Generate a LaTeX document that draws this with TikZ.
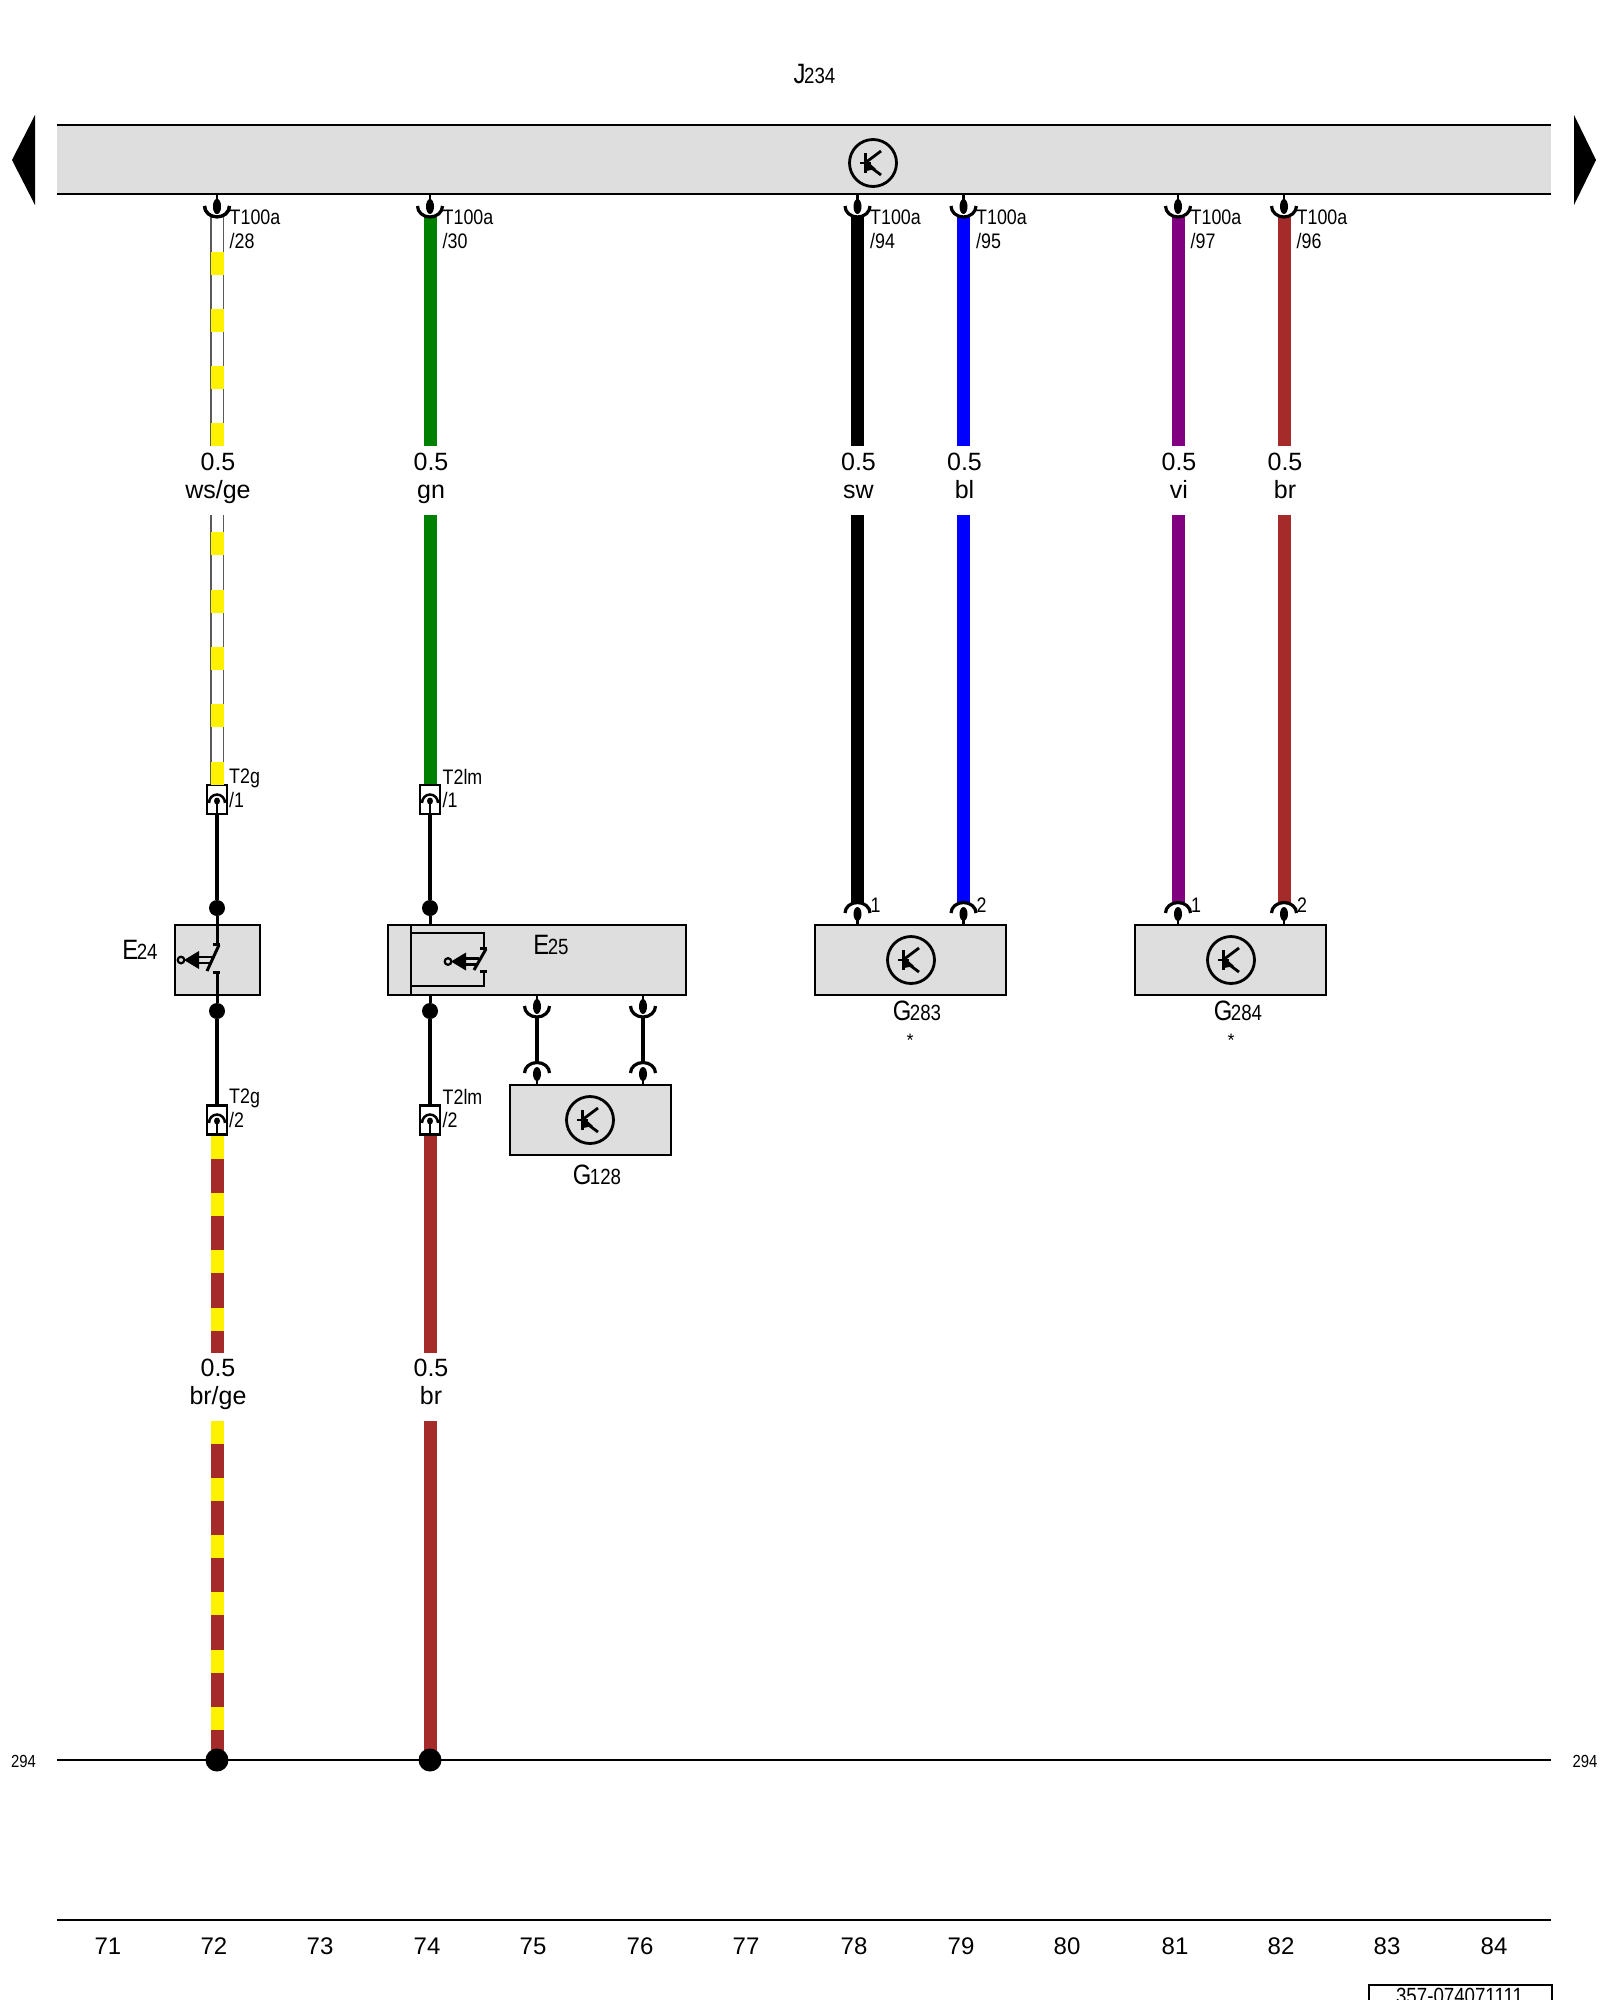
\documentclass[tikz,border=0pt]{standalone}
\usepackage{fontspec}
\setmainfont{Liberation Sans}
\newfontfamily\narrowfont[FakeStretch=0.85]{Liberation Sans}
\definecolor{boxgray}{HTML}{DEDEDE}
\definecolor{wbrown}{HTML}{A52A2A}
\definecolor{wgreen}{HTML}{008000}
\definecolor{wblue}{HTML}{0000FF}
\definecolor{wviolet}{HTML}{800080}
\newcommand{\complabel}[2]{{\narrowfont\fontsize{28}{28}\selectfont #1\hspace{-1.5pt}\fontsize{22}{22}\selectfont #2}}
\tikzset{
	wire/.style={line width=13pt,draw=#1},
	wswire/.style={line width=1.3pt,draw=gray!70!black,double=white,double distance=11pt},
	blackwire/.style={line width=4.5pt},
	rail/.style={line width=2.2pt},
	box/.style={draw,fill=boxgray,line width=2.2pt,inner sep=0pt},
	tbox/.style={draw,fill=white,line width=2.2pt,inner sep=0pt,minimum width=20pt,minimum height=29pt},
	dot/.style={circle,fill,inner sep=0pt,minimum size=16pt},
	bigdot/.style={circle,fill,inner sep=0pt,minimum size=23pt},
	pinlabel/.style={font=\narrowfont\fontsize{21}{23.5}\selectfont,inner sep=0pt,anchor=north west,align=left},
	wirelabel/.style={font=\fontsize{25}{25}\selectfont,inner sep=0pt,anchor=base},
	colnum/.style={font=\fontsize{24}{24}\selectfont,inner sep=0pt},
	sidenum/.style={font=\narrowfont\fontsize{17.5}{18}\selectfont,inner sep=0pt},
	complbl/.style={inner sep=0pt,anchor=base},
	pics/cupconn/.style={code={
		\draw [line width=3.2pt] (-12.5,0) arc (180:0:12.5 and 11);
		\fill (0,0.5) ellipse (4 and 7.5);
		\draw [line width=2.5pt] (0,-12) -- (0,0);
	}},
	pics/capconn/.style={code={
		\draw [line width=3.2pt] (-12.5,0) arc (180:360:12.5 and 10.5);
		\fill (0,1) ellipse (4 and 7);
		\draw [line width=2.5pt] (0,0) -- (0,12);
	}},
	pics/tconn/.style={code={
		\draw [line width=2.5pt] (-8,0) arc (180:360:8 and 8.5);
		\fill (0,-2) ellipse (3 and 3.5);
		\draw [line width=2.5pt] (0,-2) -- (0,11);
	}},
	pics/transym/.style={code={
		\draw [line width=2.8pt] (0,0) circle (23.5);
		\draw [line width=3pt] (-8,-10) -- (-8,10);
		\draw [line width=2.8pt] (-13,0) -- (-2,0);
		\draw [line width=2.8pt] (-8,0) -- (8,-12);
		\draw [line width=2.8pt] (-8,0) -- (8,12);
		\fill (-7,-3) -- (-7,8) -- (3,6) -- cycle;
	}},
	pics/swsym/.style={code={
		\draw [line width=3pt] (-4,0) -- (3,0);
		\draw [line width=3pt] (-4,#1) -- (3,#1);
		\draw [line width=3pt] (-10,#1-1) -- (2,1);
		\fill (-33,{#1/2+2}) -- (-18,{#1/2-7}) -- (-18,{#1/2+11}) -- cycle;
		\draw [line width=2.5pt] (-18,{#1/2-1}) -- (-5,{#1/2-1});
		\draw [line width=2.5pt] (-18,{#1/2+5}) -- (-6,{#1/2+5});
		\draw [line width=2.2pt,fill=boxgray] (-36,{#1/2+2}) circle (3.3);
	}}
}
\begin{document}
\begin{tikzpicture}[x=1pt,y=-1pt]
	\useasboundingbox (0,0) rectangle (1600,2000);

	% top bar
	\fill [boxgray] (57,125) rectangle (1551,194);
	\draw [rail] (57,125) -- (1551,125);
	\draw [rail] (57,194) -- (1551,194);
	\pic at (873,163) {transym};
	\node (J234) [complbl] at (814.5,83) {\complabel{J}{234}};
	\fill (35,115) -- (12,160) -- (35,205) -- cycle;
	\fill (1574,115) -- (1596,160) -- (1574,205) -- cycle;

	% rails
	\coordinate (railLa) at (57,1760);
	\coordinate (railLb) at (1551,1760);
	\coordinate (railBa) at (57,1920);
	\coordinate (railBb) at (1551,1920);
	\draw [rail] (railLa) -- (railLb);
	\draw [rail] (railBa) -- (railBb);
	\node (numL) [sidenum] at (23.5,1761) {294};
	\node (numR) [sidenum] at (1585,1761) {294};

	% boxes
	\node (E24) [box,minimum width=85pt,minimum height=70pt] at (217.5,960) {};
	\node (E25) [box,minimum width=298pt,minimum height=70pt] at (537,960) {};
	\node (G128) [box,minimum width=161pt,minimum height=70pt] at (590.5,1120) {};
	\node (G283) [box,minimum width=191pt,minimum height=70pt] at (910.5,960) {};
	\node (G284) [box,minimum width=191pt,minimum height=70pt] at (1230.5,960) {};

	% wires with pins at the top bar
	\foreach \x/\pinno/\col/\wname in {217/28/white/{ws/ge},430/30/wgreen/gn,857.5/94/black/sw,963.5/95/wblue/bl,1178/97/wviolet/vi,1284/96/wbrown/br} {
		\coordinate (w\pinno a) at (\x,216);
		\coordinate (w\pinno b) at (\x,446);
		\coordinate (w\pinno c) at (\x,515);
		\draw [wire=\col] (w\pinno a) -- (w\pinno b);
		\pic at (\x,206) {cupconn};
		\node (pin\pinno) [pinlabel] at (\x+12.5,210) {T100a\\/\pinno};
		\node (gauge\pinno) [wirelabel] at (\x+1,470) {0.5};
		\node (name\pinno) [wirelabel] at (\x+1,498) {\wname};
	}

	% T2 connectors
	\node (T2ga) [tbox] at (217,799.5) {};
	\node (T2gb) [tbox] at (217,1120) {};
	\node (T2lma) [tbox] at (430,799.5) {};
	\node (T2lmb) [tbox] at (430,1120) {};
	\node (lblT2ga) [pinlabel] at (229,769) {T2g\\/1};
	\node (lblT2gb) [pinlabel] at (229,1089) {T2g\\/2};
	\node (lblT2lma) [pinlabel] at (442.5,769) {T2lm\\/1};
	\node (lblT2lmb) [pinlabel] at (442.5,1089) {T2lm\\/2};

	% white-yellow wire
	\draw [wswire] (w28a) -- (w28b);
	\draw [wswire] (w28c) -- (T2ga.north);
	\foreach \y in {252,309,366,423,532,590,647,704,762}
		\fill [yellow] (210.5,\y) rectangle +(13,22.5);
	\pic at (217,206) {cupconn};

	% green wire
	\draw [wire=wgreen] (w30c) -- (T2lma.north);

	% wires into the sensors
	\foreach \x/\pinno/\col/\no in {857.5/94/black/1,963.5/95/wblue/2,1178/97/wviolet/1,1284/96/wbrown/2} {
		\coordinate (w\pinno d) at (\x,903);
		\draw [wire=\col] (w\pinno c) -- (w\pinno d);
		\pic at (\x,913) {capconn};
		\node (no\pinno) [pinlabel] at (\x+13,898) {\no};
	}

	% connector inserts
	\pic at (217,803) {tconn};
	\pic at (430,803) {tconn};
	\pic at (217,1123) {tconn};
	\pic at (430,1123) {tconn};

	% black parts and switches
	\node (dotE24a) [dot] at (217,908) {};
	\node (dotE24b) [dot] at (217,1011) {};
	\node (dotE25a) [dot] at (430,908) {};
	\node (dotE25b) [dot] at (430,1011) {};
	\draw [blackwire] (T2ga.south) -- (dotE24a);
	\draw [blackwire] (T2lma.south) -- (dotE25a);
	\draw [blackwire] (dotE24b) -- (T2gb.north);
	\draw [blackwire] (dotE25b) -- (T2lmb.north);
	\draw [line width=3pt] (dotE24a) -- (217,944);
	\draw [line width=3pt] (217,972) -- (dotE24b);
	\draw [line width=3pt] (dotE25a) -- (430,925);
	\draw [line width=3pt] (430,995) -- (dotE25b);
	\pic at (217,944) {swsym=28};
	\draw [line width=2.8pt] (411,925) -- (411,995);
	\draw [line width=2.8pt] (411,933) -- (484,933) -- (484,948);
	\draw [line width=2.8pt] (484,971) -- (484,986) -- (411,986);
	\pic at (484,948) {swsym=23};
	\node (lblE24) [complbl] at (140,959) {\complabel{E}{24}};
	\node (lblE25) [complbl] at (551,954) {\complabel{E}{25}};

	% G128 and its two pairs of pins
	\foreach \x/\pinno in {537/a,643/b} {
		\coordinate (g\pinno a) at (\x,1016);
		\coordinate (g\pinno b) at (\x,1063);
		\draw [blackwire] (g\pinno a) -- (g\pinno b);
		\pic at (\x,1006) {cupconn};
		\pic at (\x,1073) {capconn};
	}
	\pic at (590,1120) {transym};
	\pic at (911,960) {transym};
	\pic at (1231,960) {transym};
	\node (lblG128) [complbl] at (597,1184) {\complabel{G}{128}};
	\node (lblG283) [complbl] at (917,1020) {\complabel{G}{283}};
	\node (lblG284) [complbl] at (1238,1020) {\complabel{G}{284}};
	\node (starA) [inner sep=0pt,font=\fontsize{18}{18}\selectfont] at (910,1040) {*};
	\node (starB) [inner sep=0pt,font=\fontsize{18}{18}\selectfont] at (1231,1040) {*};

	% lower wires
	\coordinate (wbga) at (217,1353);
	\coordinate (wbgb) at (217,1421);
	\coordinate (wbra) at (430,1353);
	\coordinate (wbrb) at (430,1421);
	\coordinate (gndA) at (217,1760);
	\coordinate (gndB) at (430,1760);
	\draw [wire=wbrown] (T2gb.south) -- (wbga);
	\draw [wire=wbrown] (wbgb) -- (gndA);
	\draw [wire=wbrown] (T2lmb.south) -- (wbra);
	\draw [wire=wbrown] (wbrb) -- (gndB);
	\foreach \y in {1136,1193,1250,1308,1421,1478,1535,1592,1650,1707}
		\fill [yellow] (210.5,\y) rectangle +(13,22.5);
	\node (dotGa) [bigdot] at (gndA) {};
	\node (dotGb) [bigdot] at (gndB) {};
	\node (gaugeA) [wirelabel] at (218,1376) {0.5};
	\node (nameA) [wirelabel] at (218,1404) {br/ge};
	\node (gaugeB) [wirelabel] at (431,1376) {0.5};
	\node (nameB) [wirelabel] at (431,1404) {br};

	% column numbers
	\foreach \x/\n in {108/71,214/72,320/73,427/74,533/75,640/76,746/77,854/78,961/79,1067/80,1175/81,1281/82,1387/83,1494/84}
		\node (col\n) [colnum] at (\x,1946) {\n};

	% drawing number
	\node (docbox) [draw,line width=2.2pt,fill=white,anchor=north west,inner sep=0pt,minimum width=183pt,minimum height=40pt] at (1368,1984) {};
	\node (docno) [inner sep=0pt,anchor=base,font=\narrowfont\fontsize{22}{22}\selectfont] at (1459.5,2003.5) {357-074071111};
\end{tikzpicture}
\end{document}
